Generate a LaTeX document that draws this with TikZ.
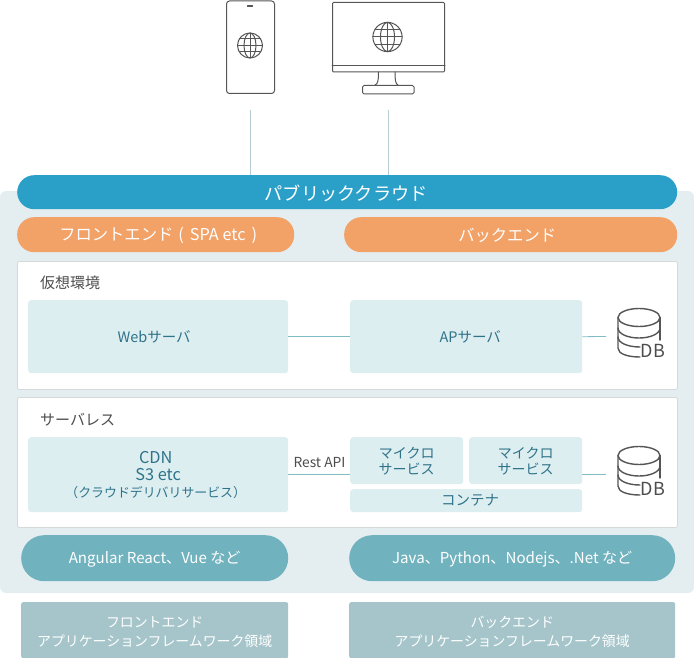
\documentclass[tikz,border=0pt]{standalone}
\usepackage{fontspec}
\setmainfont{Noto Sans CJK JP}
\definecolor{panelbg}{HTML}{E4EEF0}
\definecolor{cloudblue}{HTML}{2AA0C9}
\definecolor{orangepill}{HTML}{F2A167}
\definecolor{palebox}{HTML}{DDEEF1}
\definecolor{tealtext}{HTML}{2F7389}
\definecolor{tealline}{HTML}{7FBCC6}
\definecolor{tealpill}{HTML}{70B2BE}
\definecolor{greybox}{HTML}{A6C5CA}
\definecolor{darktext}{HTML}{4D4D4D}
\definecolor{iconline}{HTML}{555555}
\definecolor{cardedge}{HTML}{D5D9DA}
\definecolor{dropline}{HTML}{B5CDD3}
\newcommand{\lowered}[1]{\raisebox{-1pt}[\height][\depth]{#1}}
\newcommand{\twolines}[2]{\raisebox{-3pt}[\height][\depth]{\begin{tabular}{@{}c@{}}#1\\#2\end{tabular}}}
\tikzset{
  x=1pt,y=-1pt,
  box/.style args={#1/#2}{rectangle,anchor=north west,minimum width=#1pt,minimum height=#2pt,inner sep=0pt,align=center},
  pill/.style={box=#1,rounded corners=17pt,fill=orangepill,text=white,font=\fontsize{16.3}{18}\selectfont},
  card/.style={box=#1,rounded corners=2pt,fill=white,draw=cardedge,line width=0.8pt},
  pale/.style={box=#1,rounded corners=3pt,fill=palebox,text=tealtext,font=\fontsize{14.5}{17}\selectfont},
  tealp/.style={box=#1,rounded corners=23pt,fill=tealpill,text=white,font=\fontsize{15.1}{17}\selectfont},
  greyb/.style={box=#1,rounded corners=2pt,fill=greybox,text=white,font=\fontsize{13.9}{19}\selectfont},
  link/.style={draw=tealline,line width=0.8pt},
  drop/.style={draw=dropline,line width=0.8pt},
  icon/.style={draw=iconline,line width=1pt,line cap=round,line join=round},
  dbline/.style={draw=iconline,line width=1.4pt,line cap=round,line join=round},
  captxt/.style={text=darktext,font=\fontsize{15}{17}\selectfont,inner sep=0pt},
}
\newcommand{\globeicon}[2]{%
  \begin{scope}[shift={(#1)},scale=#2]
    \draw[icon] (0,0) circle (12.5);
    \draw[icon] (0,0) ellipse (6 and 12.5);
    \draw[icon] (0,-12.5) -- (0,12.5) (-12.5,0) -- (12.5,0);
    \draw[icon] (-10.6,-6.5) -- (10.6,-6.5) (-10.6,6.5) -- (10.6,6.5);
  \end{scope}}
\newcommand{\dbicon}[1]{%
  \begin{scope}[shift={(#1)}]
    \draw[dbline] (0,-18.5) ellipse (21 and 9);
    \draw[dbline] (-21,-18.5) -- (-21,12) .. controls (-21,18) and (-11,21) .. (1,21);
    \draw[dbline] (21,-18.5) -- (21,4);
    \draw[dbline] (-21,-8) .. controls (-21,-2) and (-11,2) .. (0,2) .. controls (11,2) and (21,-2) .. (21,-8);
    \draw[dbline] (-21,1) .. controls (-21,7) and (-11,11) .. (1,11);
  \end{scope}}
\begin{document}
\begin{tikzpicture}
\useasboundingbox (0,0) rectangle (694,658);
% panel
\fill[panelbg,rounded corners=6pt] (0,191) rectangle (694,593);
% devices
\coordinate (phoneend) at (250,110);
\coordinate (monitorend) at (388.5,110);
\node[box=48/92.5,draw=iconline,line width=1pt,rounded corners=3pt] (phone) at (226,0.5) {};
\draw[icon,line width=1.4pt] (247.5,6) -- (252.5,6);
\globeicon{250,45.5}{1}
\node[box=112/69.5,draw=iconline,line width=1pt,rounded corners=1pt] (monitor) at (332,2) {};
\draw[icon] (monitor.west |- 0,65.5) -- (monitor.east |- 0,65.5);
\globeicon{387.5,37}{1.17}
\draw[icon] (378.5,72) .. controls (378.5,80) and (378,84) .. (375,85);
\draw[icon] (395,72) .. controls (395,80) and (395.5,84) .. (398,85);
\node[box=51.5/8.5,draw=iconline,line width=1pt,rounded corners=1.5pt] (stand) at (362,85) {};
% cloud
\node[box=660/34,rounded corners=17pt,fill=cloudblue,text=white,font=\fontsize{18.2}{20}\selectfont] (cloud) at (17,175) {\hspace*{-2pt}\lowered{パブリッククラウド}};
\draw[drop] (phoneend) -- (phoneend |- cloud.north);
\draw[drop] (monitorend) -- (monitorend |- cloud.north);
\node[pill=277/35] (front) at (17,217) {\hspace*{5pt}\lowered{フロントエンド\hspace{5pt}(\hspace{6pt}SPA etc\hspace{6pt})}};
\node[pill=333/35] (back) at (344,217) {\hspace*{-7pt}\lowered{バックエンド}};
% virtual
\node[card=660/128] (vcard) at (17,261) {};
\node[captxt,anchor=west] (vlabel) at (40,282.5) {仮想環境};
\node[pale=260/73] (web) at (28,300) {\hspace*{-8pt}Webサーバ};
\node[pale=232/73] (ap) at (350,300) {\hspace*{8pt}APサーバ};
\dbicon{639,336}
\node[inner sep=0pt,text=darktext,font=\fontsize{18}{20}\selectfont] (dbt1) at (653,351) {DB};
\coordinate (dbin1) at (606,336.5);
\draw[link] (web) -- (ap);
\draw[link] (ap.east) -- (dbin1);
% serverless
\node[card=660/130] (scard) at (17,397) {};
\node[captxt,anchor=west] (slabel) at (40,419.5) {サーバレス};
\node[box=260/75,rounded corners=3pt,fill=palebox,text=tealtext,font=\fontsize{16.3}{17}\selectfont] (cdn) at (28,437) {CDN\hspace*{5pt}\\S3 etc\hspace*{5pt}\\{\fontsize{12.9}{17}\selectfont （クラウドデリバリサービス）\hspace*{5pt}}};
\node[pale=113/47,font=\fontsize{14}{16}\selectfont] (m1) at (350,437) {マイクロ\\サービス};
\node[pale=113/47,font=\fontsize{14}{16}\selectfont] (m2) at (469,437) {マイクロ\\サービス};
\node[pale=232/23] (cont) at (350,489) {\hspace*{8pt}コンテナ};
\coordinate (dbin2) at (606,474.5);
\draw[link] (cdn.east |- dbin2) -- (m1.west |- dbin2);
\node[captxt,font=\fontsize{13.8}{16}\selectfont] (rest) at (319.5,462.5) {Rest API};
\draw[link] (m2.east |- dbin2) -- (dbin2);
\dbicon{639,474}
\node[inner sep=0pt,text=darktext,font=\fontsize{18}{20}\selectfont] (dbt2) at (653,489) {DB};
% framework pills
\node[tealp=267/46] (ang) at (21,535) {\lowered{Angular React、Vue など}};
\node[tealp=326/46] (java) at (349,535) {\lowered{Java、Python、Nodejs、.Net など}};
% bottom
\node[greyb=267/56] (fw1) at (21,602) {\twolines{フロントエンド}{アプリケーションフレームワーク領域}};
\node[greyb=326/56] (fw2) at (349,602) {\twolines{バックエンド}{アプリケーションフレームワーク領域}};
\end{tikzpicture}
\end{document}
